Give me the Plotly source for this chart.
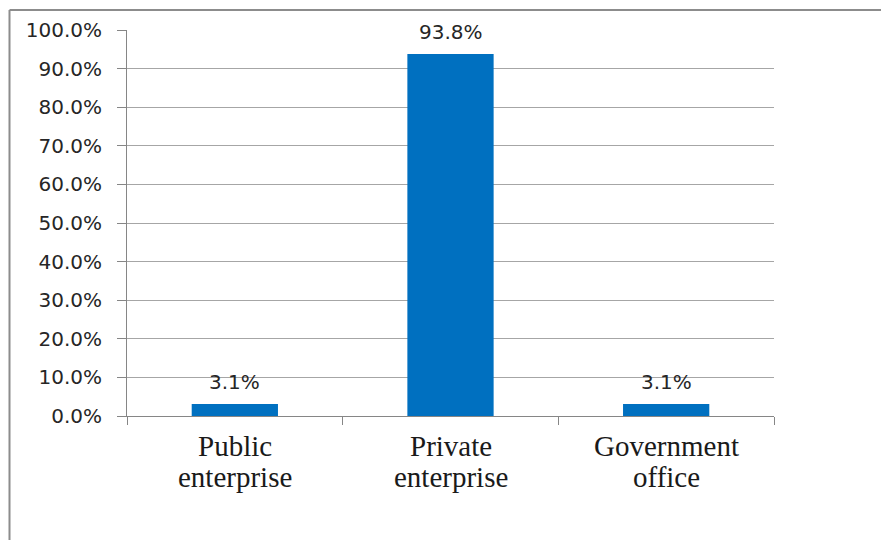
import plotly.graph_objects as go

# Share of respondents by employer type
categories = ["Public enterprise", "Private enterprise", "Government office"]
label_lines = [["Public", "enterprise"], ["Private", "enterprise"], ["Government", "office"]]
shares = [0.031, 0.938, 0.031]
y_ticks = [i / 10 for i in range(11)]

W, H = 881, 540
L, R, T, B = 127, 107, 30, 124
plot_w = W - L - R
plot_h = H - T - B

bar_color = "#0070C0"
grid_color = "#A6A6A6"
axis_color = "#868686"
serif = "Liberation Serif"
sans = "DejaVu Sans"


def px_to_paper_x(px):
    return (px - L) / plot_w


def px_to_paper_y(py):
    return (H - B - py) / plot_h


fig = go.Figure(
    go.Bar(
        x=categories,
        y=shares,
        marker=dict(color=bar_color, line=dict(width=0)),
        width=0.4,
        hoverinfo="skip",
    )
)

# value labels above each bar
for cat, val in zip(categories, shares):
    fig.add_annotation(
        x=cat, y=val, text=f"{val * 100:.1f}%",
        showarrow=False, yanchor="bottom", yshift=8,
        font=dict(family=sans, size=20, color="#262626"),
    )

# two-line category labels under the axis
line_centers_px = [446, 477]
for cat, lines in zip(categories, label_lines):
    for text, cy in zip(lines, line_centers_px):
        fig.add_annotation(
            x=cat, xref="x", y=px_to_paper_y(cy), yref="paper",
            text=text, showarrow=False, yanchor="middle", xanchor="center",
            font=dict(family=serif, size=29, color="#1A1A1A"),
        )

# outer frame: top and left edges of the chart area
frame_x, frame_y = 9.5, 10
fig.add_shape(type="line", xref="paper", yref="paper",
              x0=px_to_paper_x(frame_x), x1=px_to_paper_x(W + 5),
              y0=px_to_paper_y(frame_y), y1=px_to_paper_y(frame_y),
              line=dict(color="#8C8C8C", width=2))
fig.add_shape(type="line", xref="paper", yref="paper",
              x0=px_to_paper_x(frame_x), x1=px_to_paper_x(frame_x),
              y0=px_to_paper_y(frame_y), y1=px_to_paper_y(H + 5),
              line=dict(color="#8C8C8C", width=2))

fig.update_layout(
    width=W, height=H,
    margin=dict(l=L, r=R, t=T, b=B, pad=0),
    paper_bgcolor="white", plot_bgcolor="white",
    showlegend=False,
    bargap=0.6,
    xaxis=dict(
        type="category",
        showline=True, linecolor=axis_color, linewidth=1,
        ticks="outside", tickson="boundaries", ticklen=8, tickcolor=axis_color,
        showgrid=False,
        showticklabels=False,
    ),
    yaxis=dict(
        range=[0, 1],
        tickvals=y_ticks,
        tickformat=".1%",
        showline=True, linecolor=axis_color, linewidth=1,
        ticks="outside", ticklen=9, tickcolor=axis_color,
        showgrid=True, gridcolor=grid_color, gridwidth=1,
        zeroline=False,
        tickfont=dict(family=sans, size=20, color="#262626"),
        ticklabelstandoff=11,
    ),
)

fig.write_html("out.html")
